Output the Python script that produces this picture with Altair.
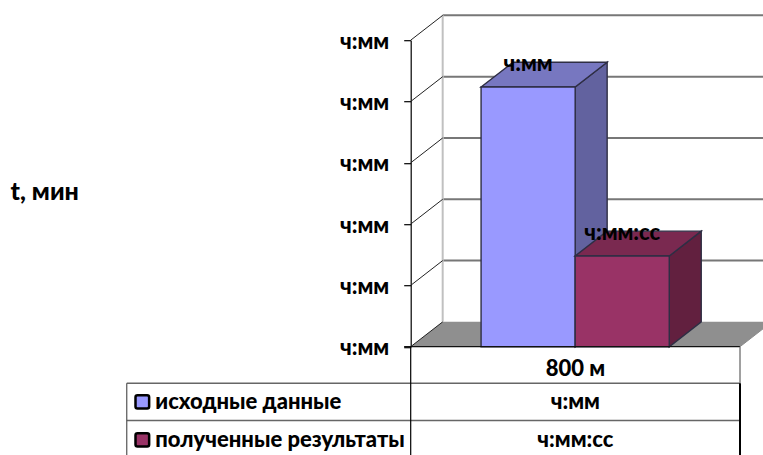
import altair as alt
import pandas as pd

# Values
SERIES = ["исходные данные", "полученные результаты"]
VALUES = [4.236, 1.48]
VALUE_LABELS = ["ч:мм", "ч:мм:сс"]
CATEGORY = "800 м"
Y_TICKS = [0, 1, 2, 3, 4, 5]
Y_TICK_TEXT = "ч:мм"
AXIS_TITLE = "t, мин"

# Colours for each series: front, top and side faces
FRONT = ["#9999ff", "#993366"]
TOP = ["#7777c0", "#7a2950"]
SIDE = ["#62629f", "#62203f"]

# Pseudo-3D geometry, in units of bar width (x) and axis step (y)
GAP = 0.748
X_MAX = 3.5
DEPTH_X = 0.34
DEPTH_Y = 0.405
# Data table below the axis
ROW_RULES = [-0.597, -1.205]
ROW_CENTRES = [-0.364, -0.90, -1.52]
TABLE_BOTTOM = -1.80
TABLE_LEFT = -3.018
LEGEND_TEXT_X = -2.715
SWATCH_X = [-2.925, -2.78]
SWATCH_HALF = 0.11

FONT = "Lato"
WEIGHT = 900
FONT_SIZE = 22
TITLE_SIZE = 25
EDGE = "#2e2e44"
x_scale = alt.Scale(domain=[0, X_MAX], nice=False, zero=False)
y_scale = alt.Scale(domain=[0, 5], nice=False, zero=False)

# Value axis: every tick carries the same time-format label
y_axis = alt.Axis(
    values=Y_TICKS, labelExpr=f"'{Y_TICK_TEXT}'", grid=False,
    domainColor="#000000", domainWidth=1.2, tickColor="#000000",
    tickWidth=1.2, tickSize=7, labelPadding=15, labelFont=FONT, labelOffset=1,
    labelFontWeight=WEIGHT, labelFontSize=FONT_SIZE, labelColor="#000000",
    title=None)
X = lambda f="x": alt.X(f"{f}:Q", scale=x_scale, axis=None, title=None)
Y = lambda f="y": alt.Y(f"{f}:Q", scale=y_scale, axis=y_axis, title=None)


def hrule(x0, x1, y, color, width):
    data = pd.DataFrame({"x": [x0], "x2": [x1], "y": [y]})
    return alt.Chart(data).mark_rule(color=color, strokeWidth=width).encode(
        x=X(), x2="x2:Q", y=Y())


def vrule(x, y0, y1, color, width):
    data = pd.DataFrame({"x": [x], "y": [y0], "y2": [y1]})
    return alt.Chart(data).mark_rule(color=color, strokeWidth=width).encode(
        x=X(), y=Y(), y2="y2:Q")


def diagonal(x, y, color="#222222", width=1):
    data = pd.DataFrame({"x": [x, x + DEPTH_X], "y": [y, y + DEPTH_Y]})
    return alt.Chart(data).mark_line(color=color, strokeWidth=width).encode(
        x=X(), y=Y())


def flat_face(x0, x1, y, color, stroke=None):
    # parallelogram with horizontal front and back edges
    data = pd.DataFrame({"y": [y, y + DEPTH_Y],
                         "x": [x0, x0 + DEPTH_X],
                         "x2": [x1, x1 + DEPTH_X]})
    kw = {"stroke": stroke, "strokeWidth": 1.4} if stroke else {}
    return alt.Chart(data).mark_area(orient="horizontal", color=color, opacity=1, **kw).encode(
        y=Y(), x=X(), x2="x2:Q")


def side_face(x, y0, y1, color, stroke):
    # parallelogram with vertical front and back edges
    data = pd.DataFrame({"x": [x, x + DEPTH_X],
                         "y": [y0, y0 + DEPTH_Y],
                         "y2": [y1, y1 + DEPTH_Y]})
    return alt.Chart(data).mark_area(orient="vertical", color=color, opacity=1,
                                     stroke=stroke, strokeWidth=1.4).encode(
        x=X(), y=Y(), y2="y2:Q")


def label(x, y, text, align="center", size=FONT_SIZE):
    data = pd.DataFrame({"x": [x], "y": [y], "t": [text]})
    return alt.Chart(data).mark_text(
        font=FONT, fontWeight=WEIGHT, fontSize=size, align=align,
        baseline="middle", color="#000000").encode(x=X(), y=Y(), text="t:N")


layers = []

# Floor, back wall and side wall
layers.append(flat_face(0, X_MAX, 0, "#8f8f8f"))
for v in Y_TICKS[1:]:
    layers.append(hrule(DEPTH_X, X_MAX + DEPTH_X, v + DEPTH_Y, "#777777", 2))
layers.append(vrule(DEPTH_X, DEPTH_Y, 5 + DEPTH_Y, "#c0c0c0", 2))
for v in Y_TICKS:
    layers.append(diagonal(0, v))
layers.append(diagonal(X_MAX, 0, "#8a8a8a"))

# Bars, drawn left to right so the later block overlaps the earlier side face
for i, v in enumerate(VALUES):
    x0, x1 = GAP + i, GAP + i + 1
    layers.append(side_face(x1, v, 0, SIDE[i], EDGE))
    layers.append(flat_face(x0, x1, v, TOP[i], EDGE))
    front = pd.DataFrame({"x": [x0], "x2": [x1], "y": [0], "y2": [v]})
    layers.append(alt.Chart(front).mark_rect(
        color=FRONT[i], stroke=EDGE, strokeWidth=1.4).encode(
        x=X(), x2="x2:Q", y=Y(), y2="y2:Q"))
    layers.append(label(x0 + 0.5, v + DEPTH_Y - 0.03, VALUE_LABELS[i]))

layers.append(hrule(-0.07, X_MAX, 0, "#111111", 1.2))

# Data table under the plot
for y in ROW_RULES:
    layers.append(hrule(TABLE_LEFT, X_MAX, y, "#666666", 1.5))
layers.append(vrule(0, 0, TABLE_BOTTOM, "#000000", 1.2))
layers.append(vrule(X_MAX, 0, ROW_RULES[0], "#808080", 1.5))
layers.append(vrule(X_MAX, ROW_RULES[0], TABLE_BOTTOM, "#000000", 2))
layers.append(vrule(TABLE_LEFT, ROW_RULES[0], TABLE_BOTTOM, "#555555", 1.2))

layers.append(label(X_MAX / 2, ROW_CENTRES[0], CATEGORY))
for i, name in enumerate(SERIES):
    yc = ROW_CENTRES[i + 1]
    swatch = pd.DataFrame({"x": [SWATCH_X[0]], "x2": [SWATCH_X[1]],
                           "y": [yc - SWATCH_HALF], "y2": [yc + SWATCH_HALF]})
    layers.append(alt.Chart(swatch).mark_rect(
        color=FRONT[i], stroke="#000000", strokeWidth=2.5, cornerRadius=2).encode(
        x=X(), x2="x2:Q", y=Y(), y2="y2:Q"))
    layers.append(label(LEGEND_TEXT_X, yc, name, align="left"))
    layers.append(label(X_MAX / 2, yc, VALUE_LABELS[i]))

layers.append(label(-3.89, 2.524, AXIS_TITLE, size=TITLE_SIZE))

chart = alt.layer(*layers).properties(
    width=329.3,
    height=306.5,
    autosize=alt.AutoSizeParams(type="none"),
    padding={"left": 410.7, "top": 40.2, "right": 23, "bottom": 108.3},
    background="#ffffff",
).configure_view(stroke=None)

chart.save("out.html", embed_options={"renderer": "svg", "actions": False})
